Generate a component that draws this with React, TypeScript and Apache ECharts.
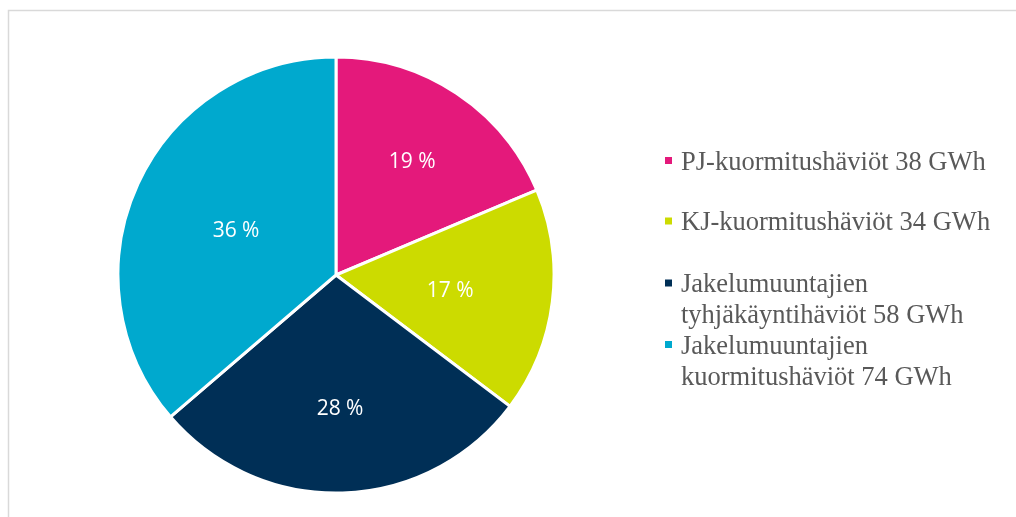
import React, { useEffect, useRef } from "react";
import * as echarts from "echarts";

const CATEGORIES = [
  "PJ-kuormitushäviöt",
  "KJ-kuormitushäviöt",
  "Jakelumuuntajien tyhjäkäyntihäviöt",
  "Jakelumuuntajien kuormitushäviöt",
];
const VALUES = [38, 34, 58, 74];
const UNIT = "GWh";
const COLORS = ["#E4197B", "#CCDB00", "#002F56", "#00A9CE"];
// label distance from the pie centre, per slice (as in the reference's best-fit layout)
const LABEL_RADIUS = [138, 115, 132, 110];

const CX = 336;
const CY = 275;
const R = 218;

export default function App() {
  const ref = useRef<HTMLDivElement>(null);
  useEffect(() => {
    if (!ref.current) return;
    const chart = echarts.init(ref.current, null, { renderer: "svg" });
    const multi = [false, false, true, true];
    const legendTops = [145, 205.5, 236.5, 298];
    const legends = CATEGORIES.map((name, i) => ({
      orient: "vertical",
      left: 663,
      top: legendTops[i],
      padding: 0,
      data: [name],
      icon: "rect",
      itemWidth: 9,
      itemHeight: 9,
      selectedMode: false,
      formatter: (n: string) => {
        const idx = CATEGORIES.indexOf(n);
        const text = `${n} ${VALUES[idx]} ${UNIT}`;
        return multi[idx] ? "\n" + text.replace(" ", "\n") : text;
      },
      textStyle: {
        fontFamily: "Liberation Serif",
        fontSize: 26.5,
        lineHeight: 31,
        color: "#595959",
        padding: [0, 0, 0, 3],
      },
    }));
    chart.setOption({
      animation: false,
      graphic: [
        {
          type: "rect",
          shape: { x: 8.5, y: 10.5, width: 1200, height: 700 },
          style: { fill: "none", stroke: "#D9D9D9", lineWidth: 1.5 },
          silent: true,
        },
      ],
      legend: legends,
      series: [
        {
          type: "pie",
          center: [CX, CY],
          radius: [0, R],
          startAngle: 90,
          clockwise: true,
          percentPrecision: 0,
          itemStyle: { borderColor: "#ffffff", borderWidth: 3 },
          label: {
            show: true,
            position: "inside",
            formatter: "{d} %",
            color: "#ffffff",
            fontFamily: "Open Sans",
            fontSize: 21,
          },
          labelLine: { show: false },
          emphasis: { disabled: true },
          labelLayout: (p: any) => {
            const lr = p.labelRect;
            const lx = lr.x + lr.width / 2;
            const ly = lr.y + lr.height / 2;
            const vx = lx - CX;
            const vy = ly - CY;
            const L = Math.sqrt(vx * vx + vy * vy) || 1;
            const target = LABEL_RADIUS[p.dataIndex];
            return { dx: (vx / L) * (target - L), dy: (vy / L) * (target - L) };
          },
          data: CATEGORIES.map((name, i) => ({
            name,
            value: VALUES[i],
            itemStyle: { color: COLORS[i] },
          })),
        },
      ],
    });
    return () => chart.dispose();
  }, []);
  return (
    <div
      ref={ref}
      style={{ position: "fixed", left: 0, top: 0, width: 1016, height: 517 }}
    />
  );
}
